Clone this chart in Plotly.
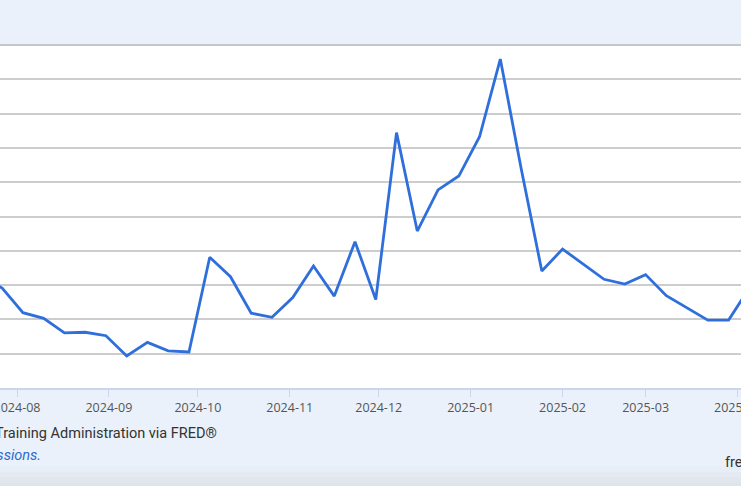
import plotly.graph_objects as go

# Weekly observations (week ending Saturday), values in number of claims
dates = [
    "2024-07-20", "2024-07-27", "2024-08-03", "2024-08-10", "2024-08-17", "2024-08-24",
    "2024-08-31", "2024-09-07", "2024-09-14", "2024-09-21", "2024-09-28", "2024-10-05",
    "2024-10-12", "2024-10-19", "2024-10-26", "2024-11-02", "2024-11-09", "2024-11-16",
    "2024-11-23", "2024-11-30", "2024-12-07", "2024-12-14", "2024-12-21", "2024-12-28",
    "2025-01-04", "2025-01-11", "2025-01-18", "2025-01-25", "2025-02-01", "2025-02-08",
    "2025-02-15", "2025-02-22", "2025-03-01", "2025-03-08", "2025-03-15", "2025-03-22",
    "2025-03-29", "2025-04-05",
]
values = [
    225000, 218300, 203900, 200600, 192200, 192500,
    190500, 178700, 186600, 181700, 181000, 236200,
    224900, 203600, 201200, 212700, 231100, 213600,
    245300, 211600, 308900, 251500, 275500, 283600,
    306500, 351800, 288300, 228200, 241000, 232300,
    223400, 220600, 226100, 213800, 206800, 199600,
    199600, 218300,
]

x_range = ["2024-07-26 06:22", "2025-04-02 04:20"]
y_range = [160000, 360000]
y_step = 20000

source_text = "Source: U.S. Employment and Training Administration via FRED®"
note_text = "Shaded areas indicate U.S. recessions."
site_text = "fred.stlouisfed.org"

W, H = 741, 486
top, bottom = 45, 388
ph = bottom - top

def py(ypx):
    return (bottom - ypx) / ph

fig = go.Figure()
fig.add_trace(go.Scatter(
    x=dates, y=values, mode="lines",
    line=dict(color="#2f6fdc", width=2.8),
    hoverinfo="skip", showlegend=False,
))

shapes = []
# soft darkening band at the bottom of the page
grad = [(466, "#e8eef7"), (472, "#e5eaf2"), (477, "#e2e7ee"), (482, "#dfe3ea")]
for i, (yy, col) in enumerate(grad):
    y1 = grad[i + 1][0] if i + 1 < len(grad) else H
    shapes.append(dict(type="rect", xref="paper", yref="paper", x0=0, x1=1,
                       y0=py(y1), y1=py(yy), fillcolor=col, line=dict(width=0),
                       layer="below"))
# top border of plot
shapes.append(dict(type="line", xref="paper", yref="paper", x0=0, x1=1,
                   y0=1, y1=1, line=dict(color="#c4c7cc", width=2)))

fig.update_layout(
    width=W, height=H, autosize=False,
    margin=dict(l=0, r=0, t=top, b=H - bottom, pad=0, autoexpand=False),
    paper_bgcolor="#eaf1fa", plot_bgcolor="#ffffff",
    shapes=shapes,
    xaxis=dict(
        range=x_range, type="date", dtick="M1", tick0="2024-08-01",
        tickformat="%Y-%m", showgrid=False, zeroline=False, automargin=False,
        ticks="outside", ticklen=7, tickwidth=1, tickcolor="#ccd6eb",
        showline=True, linecolor="#ccd6eb", linewidth=2,
        ticklabeloverflow="allow",
        tickfont=dict(family="Open Sans", size=12.5, color="#555555"),
    ),
    yaxis=dict(
        range=y_range, dtick=y_step, tick0=0, showticklabels=False, automargin=False,
        showgrid=True, gridcolor="#cdcdcd", gridwidth=2, zeroline=False,
        showline=False, ticks="",
    ),
    annotations=[
        dict(text=source_text, xref="paper", yref="paper", x=219 / W, y=py(433),
             xanchor="right", yanchor="middle", showarrow=False,
             font=dict(family="Roboto", size=14.5, color="#333333")),
        dict(text="<i>" + note_text + "</i>", xref="paper", yref="paper", x=43 / W, y=py(455),
             xanchor="right", yanchor="middle", showarrow=False,
             font=dict(family="Roboto", size=14.5, color="#2a6bd1")),
        dict(text=site_text, xref="paper", yref="paper", x=723 / W, y=py(462),
             xanchor="left", yanchor="middle", showarrow=False,
             font=dict(family="Roboto", size=14.5, color="#333333")),
    ],
)

fig.write_html(
    "out.html",
    config={"displayModeBar": False, "responsive": False},
    post_script="document.body.style.margin='0';document.body.style.overflow='hidden';",
)
